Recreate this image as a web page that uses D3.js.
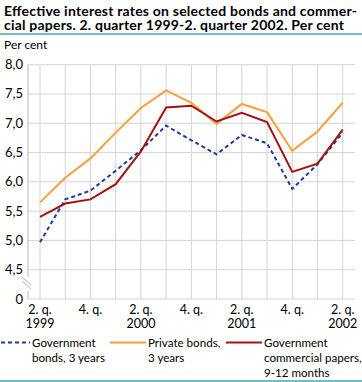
<!DOCTYPE html>
<meta charset='utf-8'>
<style type="text/css">
  body { margin: 0; background: #fff; }
  svg text { font-family: Lato, "Open Sans", sans-serif; fill: #000; }
</style>
<body>
<div class="chart"></div>
<script src='https://cdn.jsdelivr.net/npm/d3@7/dist/d3.min.js'></script>
<script>

var quarters = ['2Q99','3Q99','4Q99','1Q00','2Q00','3Q00','4Q00','1Q01','2Q01','3Q01','4Q01','1Q02','2Q02'];
var tickLines1 = ['2. q.', '', '4. q.', '', '2. q.', '', '4. q.', '', '2. q.', '', '4. q.', '', '2. q.'];
var tickLines2 = ['1999', '', '', '', '2000', '', '', '', '2001', '', '', '', '2002'];
var yTicks = [4.5, 5.0, 5.5, 6.0, 6.5, 7.0, 7.5, 8.0];

var govBonds     = [4.97, 5.70, 5.85, 6.19, 6.54, 6.96, 6.71, 6.47, 6.80, 6.66, 5.88, 6.30, 6.84];
var privateBonds = [5.65, 6.07, 6.40, 6.84, 7.26, 7.56, 7.35, 6.99, 7.33, 7.19, 6.53, 6.86, 7.35];
var govPapers    = [5.40, 5.63, 5.70, 5.96, 6.52, 7.27, 7.30, 7.03, 7.18, 7.02, 6.17, 6.31, 6.89];

var series = [
  { name: ['Government', 'bonds, 3 years'], values: govBonds, color: '#1d3d9b', dash: '4,3', lx: -6 },
  { name: ['Private bonds,', '3 years'], values: privateBonds, color: '#f7a03c', dash: null, lx: 110 },
  { name: ['Government', 'commercial papers,', '9-12 months'], values: govPapers, color: '#a5120f', dash: null, lx: 226 }
];

var width = 362, height = 382;
var svg = d3.select('.chart').append('svg')
  .attr('width', width)
  .attr('height', height);

var plotLeft = 28, plotRight = 355, plotTop = 64.7, plotBottom = 299;

var x = d3.scalePoint()
  .domain(quarters)
  .range([40, 342.7]);

var y = d3.scaleLinear()
  .domain([4.5, 8])
  .range([269.7, plotTop]);

// title
var title = svg.append('g').attr('font-weight', 'bold').attr('font-size', 14);
title.append('text').attr('x', 4).attr('y', 15.5).attr('textLength', 353).text('Effective interest rates on selected bonds and commer-');
title.append('text').attr('x', 4).attr('y', 29.5).attr('textLength', 340).text('cial papers. 2. quarter 1999-2. quarter 2002. Per cent');

svg.append('line')
  .attr('x1', 0).attr('x2', width)
  .attr('y1', 34).attr('y2', 34)
  .attr('stroke', '#3fa8b3').attr('stroke-width', 1.5);

svg.append('text').attr('x', 4).attr('y', 49).attr('font-size', 12).text('Per cent');

// grid
var grid = svg.append('g').attr('stroke', '#d4d4d4').attr('stroke-width', 1);
grid.selectAll('.hgrid').data(yTicks).enter().append('line')
  .attr('x1', plotLeft).attr('x2', plotRight)
  .attr('y1', function(d){ return y(d); })
  .attr('y2', function(d){ return y(d); });
grid.append('line')
  .attr('x1', plotLeft).attr('x2', plotRight)
  .attr('y1', plotBottom).attr('y2', plotBottom);
grid.selectAll('.vgrid').data(quarters).enter().append('line')
  .attr('x1', function(d){ return x(d); })
  .attr('x2', function(d){ return x(d); })
  .attr('y1', plotTop).attr('y2', plotBottom);

// y axis with break
var axis = svg.append('g').attr('stroke', '#b8b8b8').attr('stroke-width', 1);
axis.append('line').attr('x1', plotLeft).attr('x2', plotLeft).attr('y1', plotTop).attr('y2', 277);
axis.append('line').attr('x1', plotLeft).attr('x2', plotLeft).attr('y1', 291).attr('y2', plotBottom);
axis.append('line').attr('x1', 22).attr('x2', 31).attr('y1', 277).attr('y2', 285);
axis.append('line').attr('x1', 22).attr('x2', 31).attr('y1', 281).attr('y2', 289);

var ylab = svg.append('g').attr('font-size', 13).attr('text-anchor', 'end');
ylab.selectAll('text').data(yTicks).enter().append('text')
  .attr('x', 23)
  .attr('y', function(d){ return y(d) + 4.5; })
  .text(function(d){ return d3.format('.1f')(d).replace('.', ','); });
ylab.append('text').attr('x', 23).attr('y', plotBottom + 4.5).text('0');

// x labels
var xlab = svg.append('g').attr('font-size', 12.5).attr('text-anchor', 'middle');
xlab.selectAll('.l1').data(quarters).enter().append('text')
  .attr('x', function(d){ return x(d); })
  .attr('y', 314)
  .text(function(d, i){ return tickLines1[i]; });
xlab.selectAll('.l2').data(quarters).enter().append('text')
  .attr('x', function(d){ return x(d); })
  .attr('y', 328)
  .text(function(d, i){ return tickLines2[i]; });

// lines
var line = d3.line()
  .x(function(d, i){ return x(quarters[i]); })
  .y(function(d){ return y(d); });

svg.selectAll('.series').data(series).enter().append('path')
  .attr('fill', 'none')
  .attr('stroke', function(d){ return d.color; })
  .attr('stroke-width', 2)
  .attr('stroke-dasharray', function(d){ return d.dash; })
  .attr('d', function(d){ return line(d.values); });

// legend
var leg = svg.selectAll('.legend').data(series).enter().append('g')
  .attr('transform', function(d){ return 'translate(' + d.lx + ',0)'; });
leg.append('line')
  .attr('x1', 0).attr('x2', 36)
  .attr('y1', 342.5).attr('y2', 342.5)
  .attr('stroke', function(d){ return d.color; })
  .attr('stroke-width', 2)
  .attr('stroke-dasharray', function(d){ return d.dash; });
leg.each(function(d){
  var g = d3.select(this);
  d.name.forEach(function(s, i){
    g.append('text').attr('x', 38).attr('y', 347 + i * 15).attr('font-size', 11.6).text(s);
  });
});

svg.append('line')
  .attr('x1', 0).attr('x2', width)
  .attr('y1', 381).attr('y2', 381)
  .attr('stroke', '#3fa8b3').attr('stroke-width', 1.5);

</script>
</body>
</html>
